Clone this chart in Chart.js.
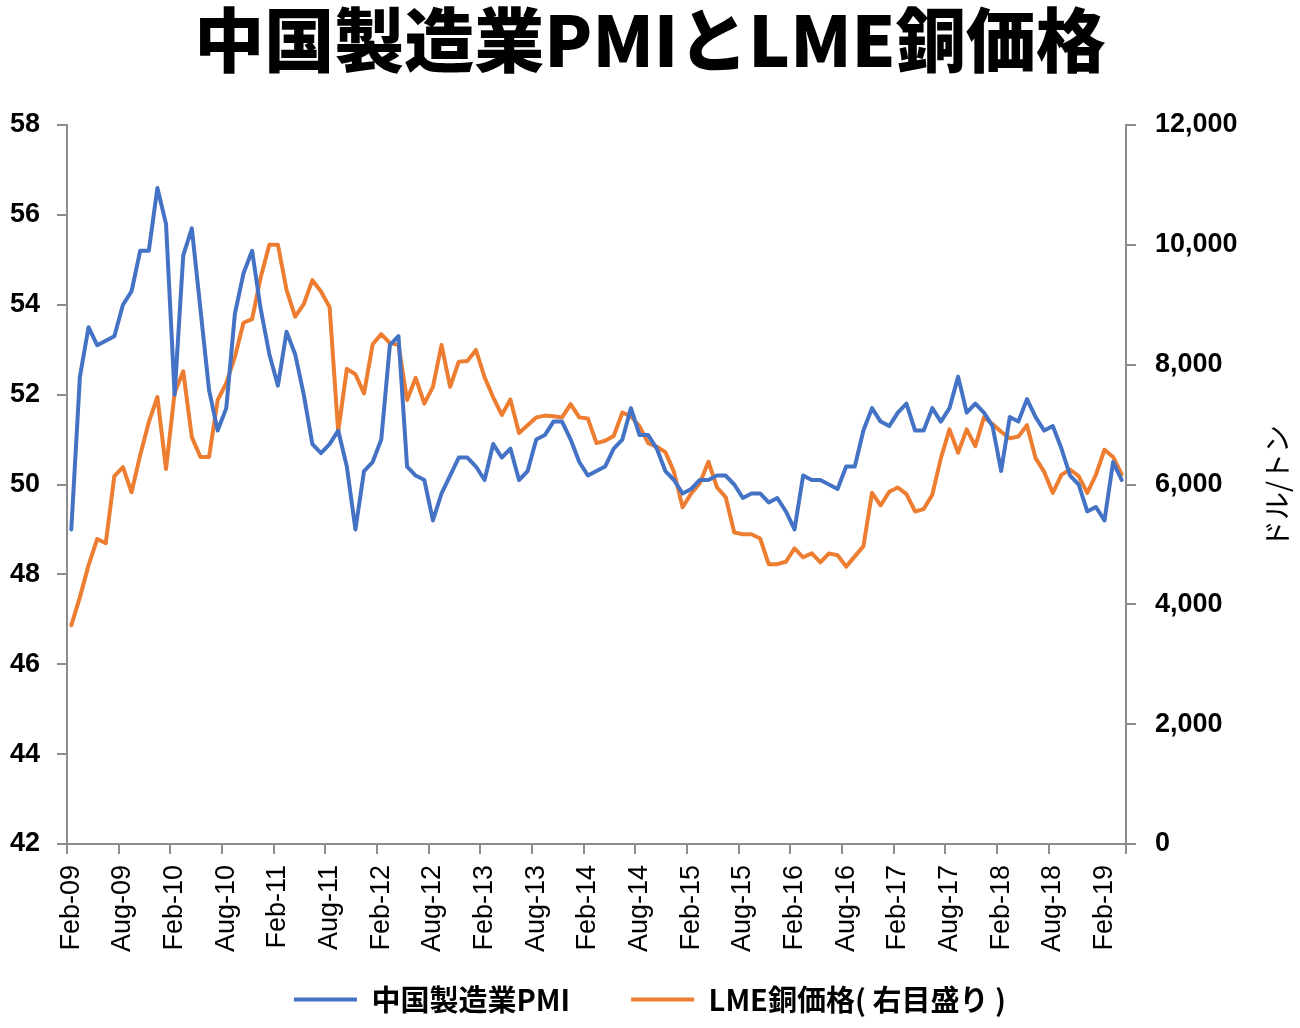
<!DOCTYPE html>
<html>
<head>
<meta charset="utf-8">
<script src="https://cdn.jsdelivr.net/npm/chart.js@4"></script>
<style>
  html, body { margin: 0; padding: 0; background: #ffffff; }
  #wrap { width: 1300px; height: 1028px; }
</style>
</head>
<body>
<div id="wrap"><canvas id="c" width="1300" height="1028"></canvas></div>
<script>
const TITLE = '中国製造業PMIとLME銅価格';
const SERIES_PMI = '中国製造業PMI';
const SERIES_CU = 'LME銅価格( 右目盛り )';
const RIGHT_TITLE = 'ドル/トン';

const categories = [
  'Feb-09','Mar-09','Apr-09','May-09','Jun-09','Jul-09','Aug-09','Sep-09','Oct-09','Nov-09','Dec-09',
  'Jan-10','Feb-10','Mar-10','Apr-10','May-10','Jun-10','Jul-10','Aug-10','Sep-10','Oct-10','Nov-10','Dec-10',
  'Jan-11','Feb-11','Mar-11','Apr-11','May-11','Jun-11','Jul-11','Aug-11','Sep-11','Oct-11','Nov-11','Dec-11',
  'Jan-12','Feb-12','Mar-12','Apr-12','May-12','Jun-12','Jul-12','Aug-12','Sep-12','Oct-12','Nov-12','Dec-12',
  'Jan-13','Feb-13','Mar-13','Apr-13','May-13','Jun-13','Jul-13','Aug-13','Sep-13','Oct-13','Nov-13','Dec-13',
  'Jan-14','Feb-14','Mar-14','Apr-14','May-14','Jun-14','Jul-14','Aug-14','Sep-14','Oct-14','Nov-14','Dec-14',
  'Jan-15','Feb-15','Mar-15','Apr-15','May-15','Jun-15','Jul-15','Aug-15','Sep-15','Oct-15','Nov-15','Dec-15',
  'Jan-16','Feb-16','Mar-16','Apr-16','May-16','Jun-16','Jul-16','Aug-16','Sep-16','Oct-16','Nov-16','Dec-16',
  'Jan-17','Feb-17','Mar-17','Apr-17','May-17','Jun-17','Jul-17','Aug-17','Sep-17','Oct-17','Nov-17','Dec-17',
  'Jan-18','Feb-18','Mar-18','Apr-18','May-18','Jun-18','Jul-18','Aug-18','Sep-18','Oct-18','Nov-18','Dec-18',
  'Jan-19','Feb-19','Mar-19','Apr-19'
];

const pmiValues = [
  49.0, 52.4, 53.5, 53.1, 53.2, 53.3, 54.0, 54.3, 55.2, 55.2, 56.6,
  55.8, 52.0, 55.1, 55.7, 53.9, 52.1, 51.2, 51.7, 53.8, 54.7, 55.2, 53.9,
  52.9, 52.2, 53.4, 52.9, 52.0, 50.9, 50.7, 50.9, 51.2, 50.4, 49.0, 50.3,
  50.5, 51.0, 53.1, 53.3, 50.4, 50.2, 50.1, 49.2, 49.8, 50.2, 50.6, 50.6,
  50.4, 50.1, 50.9, 50.6, 50.8, 50.1, 50.3, 51.0, 51.1, 51.4, 51.4, 51.0,
  50.5, 50.2, 50.3, 50.4, 50.8, 51.0, 51.7, 51.1, 51.1, 50.8, 50.3, 50.1,
  49.8, 49.9, 50.1, 50.1, 50.2, 50.2, 50.0, 49.7, 49.8, 49.8, 49.6, 49.7,
  49.4, 49.0, 50.2, 50.1, 50.1, 50.0, 49.9, 50.4, 50.4, 51.2, 51.7, 51.4,
  51.3, 51.6, 51.8, 51.2, 51.2, 51.7, 51.4, 51.7, 52.4, 51.6, 51.8, 51.6,
  51.3, 50.3, 51.5, 51.4, 51.9, 51.5, 51.2, 51.3, 50.8, 50.2, 50.0, 49.4,
  49.5, 49.2, 50.5, 50.1
];

const copperValues = [
  3650, 4120, 4650, 5090, 5020, 6140, 6290, 5870, 6490, 7040, 7460,
  6260, 7530, 7890, 6790, 6460, 6460, 7410, 7690, 8130, 8700, 8760, 9460,
  10000, 10000, 9250, 8800, 9010, 9410, 9220, 8960, 6880, 7930, 7840, 7520,
  8340, 8510, 8360, 8330, 7410, 7780, 7350, 7630, 8330, 7630, 8050, 8060,
  8245, 7790, 7455, 7160, 7420, 6860, 6990, 7120, 7150, 7140, 7120, 7340,
  7120, 7100, 6690, 6730, 6810, 7200, 7140, 6970, 6690, 6630, 6540, 6210,
  5620, 5850, 6020, 6380, 5950, 5790, 5200, 5170, 5170, 5100, 4670, 4670,
  4710, 4935, 4785, 4850, 4700, 4850, 4820, 4630, 4800, 4970, 5860, 5650,
  5880, 5950, 5840, 5550, 5590, 5830, 6440, 6920, 6530, 6920, 6640, 7120,
  7010, 6880, 6770, 6800, 6990, 6440, 6210, 5860, 6160, 6250, 6140, 5860,
  6160, 6580, 6460, 6170
];

const leftTicks = { min: 42, max: 58, step: 2 };
const rightTicks = { min: 0, max: 12000, step: 2000 };
const labelEvery = 6;

const AXIS_GRAY = '#8c8c8c';
const BLUE = '#4472C4';
const ORANGE = '#ED7D31';

const rightTitlePlugin = {
  id: 'rightTitle',
  afterDraw(chart) {
    const ctx = chart.ctx;
    const area = chart.chartArea;
    ctx.save();
    ctx.translate(chart.width - 23, (area.top + area.bottom) / 2 + 2);
    ctx.rotate(-Math.PI / 2);
    ctx.font = '28px "Noto Sans CJK JP"';
    ctx.fillStyle = '#000';
    ctx.textAlign = 'center';
    ctx.textBaseline = 'middle';
    ctx.fillText(RIGHT_TITLE, 0, 0);
    ctx.restore();
  }
};

new Chart(document.getElementById('c'), {
  type: 'line',
  data: {
    labels: categories,
    datasets: [
      {
        label: SERIES_PMI,
        data: pmiValues,
        xAxisID: 'x',
        yAxisID: 'y',
        borderColor: BLUE,
        backgroundColor: BLUE,
        borderWidth: 4,
        pointRadius: 0,
        tension: 0,
        borderJoinStyle: 'round',
        borderCapStyle: 'round'
      },
      {
        label: SERIES_CU,
        data: copperValues,
        xAxisID: 'x',
        yAxisID: 'y1',
        borderColor: ORANGE,
        backgroundColor: ORANGE,
        borderWidth: 4,
        pointRadius: 0,
        tension: 0,
        borderJoinStyle: 'round',
        borderCapStyle: 'round'
      }
    ]
  },
  options: {
    responsive: false,
    animation: false,
    layout: { padding: { left: 0, right: 0, top: 0, bottom: 4 } },
    plugins: {
      title: {
        display: true,
        text: TITLE,
        color: '#000',
        font: { family: '"Noto Sans CJK JP"', size: 70, weight: '900', lineHeight: 1 },
        padding: { top: 5, bottom: 50 }
      },
      legend: {
        display: true,
        position: 'bottom',
        labels: {
          color: '#000',
          font: { family: '"Noto Sans CJK JP"', size: 29, weight: 'bold' },
          boxWidth: 63,
          boxHeight: 4,
          padding: 32,
          generateLabels(chart) {
            const items = Chart.defaults.plugins.legend.labels.generateLabels(chart);
            items.forEach((it, i) => {
              it.fillStyle = it.strokeStyle;
              it.lineWidth = 0;
              if (i === 0) it.text = it.text + '\u3000';
            });
            return items;
          }
        }
      },
      tooltip: { enabled: false }
    },
    scales: {
      x: {
        type: 'category',
        offset: true,
        afterFit(scale) { scale.height = 109; },
        border: { display: true, color: AXIS_GRAY, width: 2 },
        grid: {
          offset: true,
          drawOnChartArea: false,
          drawTicks: true,
          tickLength: 10,
          lineWidth: 0,
          color: 'rgba(0,0,0,0)'
        },
        ticks: {
          autoSkip: false,
          minRotation: 90,
          maxRotation: 90,
          padding: 11,
          color: '#000',
          font: { family: '"Liberation Sans", Arial, sans-serif', size: 27 },
          callback(value, index) {
            return index % labelEvery === 0 ? categories[index] : '';
          }
        }
      },
      xTicks: {
        type: 'linear',
        position: { y: leftTicks.min },
        min: 0,
        max: categories.length,
        afterFit(scale) { scale.height = 0; },
        border: { display: false },
        grid: { drawOnChartArea: false, drawTicks: true, tickLength: 10, lineWidth: 2, color: AXIS_GRAY },
        ticks: { display: false, stepSize: labelEvery, autoSkip: false }
      },
      y: {
        position: 'left',
        min: leftTicks.min,
        max: leftTicks.max,
        afterFit(scale) { scale.width = 67; },
        border: { display: true, color: AXIS_GRAY, width: 2 },
        grid: { drawOnChartArea: false, drawTicks: true, tickLength: 10, lineWidth: 2, color: AXIS_GRAY },
        ticks: {
          stepSize: leftTicks.step,
          padding: 17,
          color: '#000',
          font: { family: '"Liberation Sans", Arial, sans-serif', size: 27, weight: 'bold' }
        }
      },
      y1: {
        position: 'right',
        min: rightTicks.min,
        max: rightTicks.max,
        afterFit(scale) { scale.width = 174; },
        border: { display: true, color: AXIS_GRAY, width: 2 },
        grid: { drawOnChartArea: false, drawTicks: true, tickLength: 10, lineWidth: 2, color: AXIS_GRAY },
        ticks: {
          stepSize: rightTicks.step,
          padding: 19,
          color: '#000',
          font: { family: '"Liberation Sans", Arial, sans-serif', size: 27, weight: 'bold' },
          callback(value) { return Number(value).toLocaleString('en-US'); }
        }
      }
    }
  },
  plugins: [rightTitlePlugin]
});
</script>
</body>
</html>
